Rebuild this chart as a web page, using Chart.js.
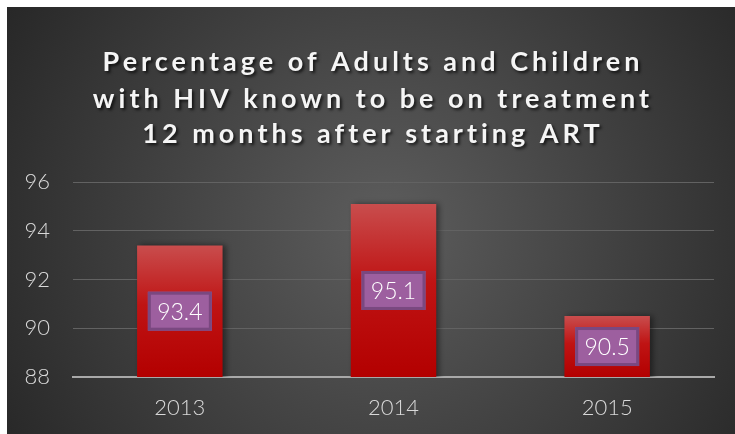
<!DOCTYPE html>
<html>
<head>
<meta charset="utf-8">
<script src="https://cdn.jsdelivr.net/npm/chart.js@4/dist/chart.umd.min.js"></script>
<style>
  html, body { margin: 0; padding: 0; background: #ffffff; }
  #wrap { position: absolute; left: 7px; top: 7px; width: 728px; height: 427px; }
</style>
</head>
<body>
<div id="wrap"><canvas id="c"></canvas></div>
<script>
const titleLines = ["Percentage of Adults and Children", "with HIV known to be on treatment", "12 months after starting ART"];
const categories = ["2013", "2014", "2015"];
const values = [93.4, 95.1, 90.5];
const yMin = 88, yMax = 96, yStep = 2;

const FONT = "'Lato', 'Open Sans', 'DejaVu Sans', sans-serif";

const bgPlugin = {
  id: 'bg',
  beforeDraw(chart) {
    const { ctx, width, height } = chart;
    ctx.save();
    const g = ctx.createRadialGradient(width * 0.52, height * 0.52, 10, width * 0.52, height * 0.52, width * 0.62);
    g.addColorStop(0, '#5c5c5c');
    g.addColorStop(1, '#262626');
    ctx.fillStyle = g;
    ctx.fillRect(0, 0, width, height);
    ctx.restore();
  }
};

const shadowPlugin = {
  id: 'barShadow',
  beforeDatasetsDraw(chart) {
    const ctx = chart.ctx;
    ctx.save();
    ctx.shadowColor = 'rgba(0,0,0,0.45)';
    ctx.shadowBlur = 6;
    ctx.shadowOffsetX = 3;
    ctx.shadowOffsetY = 0;
  },
  afterDatasetsDraw(chart) {
    chart.ctx.restore();
  }
};

const overlayPlugin = {
  id: 'overlay',
  afterDraw(chart) {
    const { ctx, width } = chart;
    const xs = chart.scales.x, ys = chart.scales.y;
    // data label boxes
    ctx.save();
    values.forEach((v, i) => {
      const cx = xs.getPixelForValue(i);
      const cy = (ys.getPixelForValue(v) + ys.getPixelForValue(yMin)) / 2;
      const w = 64, h = 39;
      ctx.fillStyle = '#9d5f9f';
      ctx.fillRect(cx - w / 2, cy - h / 2, w, h);
      ctx.strokeStyle = '#7a4880';
      ctx.lineWidth = 3;
      ctx.strokeRect(cx - w / 2 + 1.5, cy - h / 2 + 1.5, w - 3, h - 3);
      ctx.fillStyle = '#ffffff';
      ctx.font = "300 23px " + FONT;
      ctx.textAlign = 'center';
      ctx.textBaseline = 'middle';
      ctx.fillText(v.toFixed(1), cx, cy + 1);
    });
    ctx.restore();
    // title
    ctx.save();
    ctx.font = "bold 27px " + FONT;
    if ('letterSpacing' in ctx) ctx.letterSpacing = '4px';
    ctx.fillStyle = '#f5f5f5';
    ctx.textAlign = 'center';
    ctx.textBaseline = 'middle';
    ctx.shadowColor = 'rgba(0,0,0,0.7)';
    ctx.shadowBlur = 3;
    ctx.shadowOffsetX = 2;
    ctx.shadowOffsetY = 2;
    const ty = [55, 92, 127];
    titleLines.forEach((t, i) => ctx.fillText(t, width / 2 + 2, ty[i]));
    ctx.restore();
  }
};

function barGradient(context) {
  const chart = context.chart;
  if (!chart.chartArea || !chart.scales.y) return '#bb1111';
  const y = chart.scales.y;
  const top = y.getPixelForValue(values[context.dataIndex]);
  const bottom = y.getPixelForValue(yMin);
  if (!isFinite(top) || !isFinite(bottom) || top === bottom) return '#bb1111';
  const g = chart.ctx.createLinearGradient(0, top, 0, bottom);
  g.addColorStop(0, '#c94d4d');
  g.addColorStop(0.45, '#bf1414');
  g.addColorStop(1, '#b30000');
  return g;
}

new Chart(document.getElementById('c'), {
  type: 'bar',
  data: {
    labels: categories,
    datasets: [{
      data: values,
      backgroundColor: barGradient,
      borderWidth: 0,
      barPercentage: 0.4,
      categoryPercentage: 1.0
    }]
  },
  options: {
    responsive: true,
    maintainAspectRatio: false,
    animation: false,
    layout: { padding: { top: 175, left: 18, right: 21, bottom: 0 } },
    plugins: {
      legend: { display: false },
      title: { display: false },
      tooltip: { enabled: false }
    },
    scales: {
      x: {
        afterFit(s) { s.height = 57; },
        grid: { display: false, drawTicks: false },
        border: { display: true, color: '#a9a9a9', width: 2 },
        ticks: { color: '#d9d9d9', font: { family: FONT, size: 22, weight: '300' }, padding: 18 }
      },
      y: {
        afterFit(s) { s.width = 48; },
        min: yMin, max: yMax,
        grid: { color: '#626262', lineWidth: 1, drawTicks: false },
        border: { display: false },
        ticks: { stepSize: yStep, color: '#d9d9d9', font: { family: FONT, size: 22, weight: '300' }, padding: 23 }
      }
    }
  },
  plugins: [bgPlugin, shadowPlugin, overlayPlugin]
});
</script>
</body>
</html>
